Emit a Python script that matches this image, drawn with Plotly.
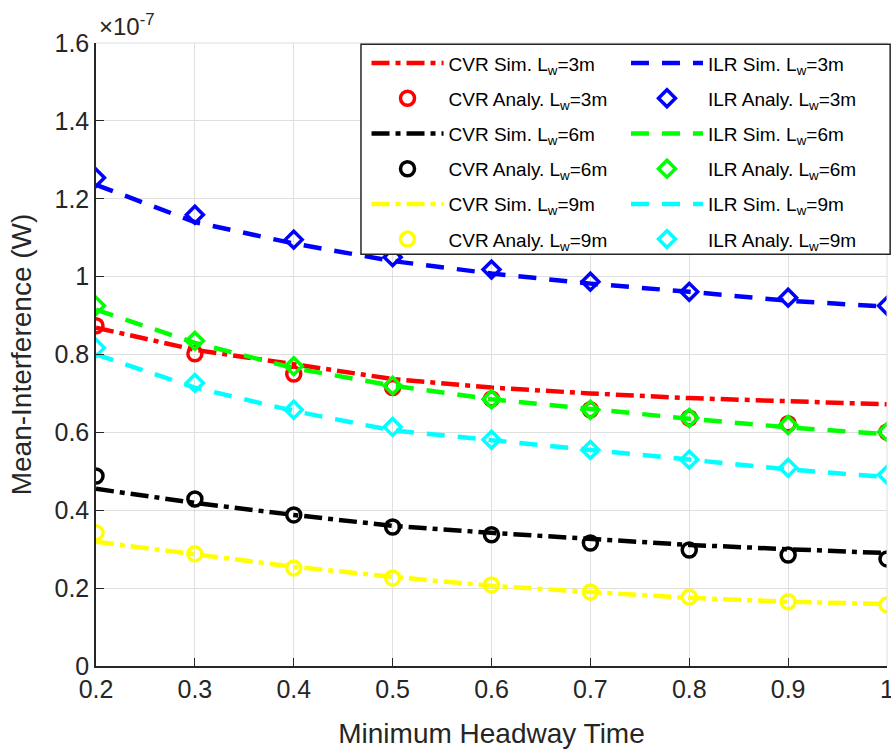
import plotly.graph_objects as go

# Minimum headway time
headway = [0.2, 0.3, 0.4, 0.5, 0.6, 0.7, 0.8, 0.9, 1.0]

# Mean interference, in units of 1e-7 W
cvr_sim_3 = [0.869, 0.812, 0.775, 0.737, 0.715, 0.700, 0.688, 0.680, 0.672]
cvr_ana_3 = [0.874, 0.802, 0.750, 0.715, 0.686, 0.658, 0.637, 0.622, 0.601]
ilr_sim_3 = [1.236, 1.140, 1.085, 1.040, 1.008, 0.982, 0.961, 0.938, 0.923]
ilr_ana_3 = [1.254, 1.159, 1.095, 1.050, 1.018, 0.987, 0.961, 0.946, 0.925]

cvr_sim_6 = [0.455, 0.419, 0.388, 0.360, 0.342, 0.326, 0.311, 0.300, 0.290]
cvr_ana_6 = [0.488, 0.429, 0.388, 0.357, 0.337, 0.316, 0.298, 0.285, 0.275]
ilr_sim_6 = [0.915, 0.830, 0.765, 0.720, 0.685, 0.660, 0.635, 0.613, 0.595]
ilr_ana_6 = [0.925, 0.835, 0.770, 0.720, 0.685, 0.658, 0.637, 0.619, 0.601]

cvr_sim_9 = [0.319, 0.288, 0.255, 0.229, 0.206, 0.190, 0.175, 0.165, 0.159]
cvr_ana_9 = [0.342, 0.288, 0.252, 0.226, 0.208, 0.190, 0.177, 0.165, 0.157]
ilr_sim_9 = [0.800, 0.715, 0.655, 0.605, 0.580, 0.555, 0.528, 0.505, 0.485]
ilr_ana_9 = [0.817, 0.727, 0.658, 0.614, 0.581, 0.555, 0.530, 0.509, 0.491]

x_ticks = [0.2, 0.3, 0.4, 0.5, 0.6, 0.7, 0.8, 0.9, 1.0]
x_labels = ["0.2", "0.3", "0.4", "0.5", "0.6", "0.7", "0.8", "0.9", "1"]
y_ticks = [0, 0.2, 0.4, 0.6, 0.8, 1.0, 1.2, 1.4, 1.6]
y_labels = ["0", "0.2", "0.4", "0.6", "0.8", "1", "1.2", "1.4", "1.6"]

DASHDOT = "18px,6px,5px,6px"
DASH = "18px,13px"
FONT = "Liberation Sans, Arial, Helvetica, sans-serif"

fig = go.Figure()

def sim(name, y, color, dash, legend):
    fig.add_trace(go.Scatter(x=headway, y=y, mode="lines", name=name,
                             legend=legend, legendgroup=name,
                             line=dict(color=color, width=4.5, dash=dash)))

def ana(name, y, color, symbol, size, legend):
    fig.add_trace(go.Scatter(x=headway, y=y, mode="markers", name=name,
                             legend=legend, legendgroup=name,
                             marker=dict(symbol=symbol, size=size, color=color,
                                         line=dict(color=color, width=3.5))))

sim("CVR Sim. L<sub>w</sub>=3m", cvr_sim_3, "#FF0000", DASHDOT, "legend")
sim("ILR Sim. L<sub>w</sub>=3m", ilr_sim_3, "#0000FF", DASH, "legend2")
ana("CVR Analy. L<sub>w</sub>=3m", cvr_ana_3, "#FF0000", "circle-open", 14, "legend")
ana("ILR Analy. L<sub>w</sub>=3m", ilr_ana_3, "#0000FF", "diamond-open", 13, "legend2")
sim("CVR Sim. L<sub>w</sub>=6m", cvr_sim_6, "#000000", DASHDOT, "legend")
sim("ILR Sim. L<sub>w</sub>=6m", ilr_sim_6, "#00FF00", DASH, "legend2")
ana("CVR Analy. L<sub>w</sub>=6m", cvr_ana_6, "#000000", "circle-open", 14, "legend")
ana("ILR Analy. L<sub>w</sub>=6m", ilr_ana_6, "#00FF00", "diamond-open", 13, "legend2")
sim("CVR Sim. L<sub>w</sub>=9m", cvr_sim_9, "#FFFF00", DASHDOT, "legend")
sim("ILR Sim. L<sub>w</sub>=9m", ilr_sim_9, "#00FFFF", DASH, "legend2")
ana("CVR Analy. L<sub>w</sub>=9m", cvr_ana_9, "#FFFF00", "circle-open", 14, "legend")
ana("ILR Analy. L<sub>w</sub>=9m", ilr_ana_9, "#00FFFF", "diamond-open", 13, "legend2")

legend_common = dict(
    orientation="v", yanchor="top", xanchor="left",
    bgcolor="rgba(0,0,0,0)", borderwidth=0,
    font=dict(family=FONT, size=19, color="#000000"),
    itemwidth=72, tracegroupgap=7.5, traceorder="grouped",
)

fig.update_layout(
    width=891, height=754,
    margin=dict(l=96, r=4, t=43, b=88, autoexpand=False),
    paper_bgcolor="white", plot_bgcolor="white",
    font=dict(family=FONT, color="#262626", size=24),
    showlegend=True,
    legend=dict(x=0.342, y=0.998, **legend_common),
    legend2=dict(x=0.670, y=0.998, **legend_common),
    xaxis=dict(
        range=[0.2, 1.0], tickvals=x_ticks, ticktext=x_labels,
        ticklabeloverflow="allow", automargin=False,
        showgrid=True, gridcolor="#DFDFDF", gridwidth=1,
        showline=True, linecolor="#262626", linewidth=1.5, mirror=False,
        ticks="inside", ticklen=8, tickcolor="#262626",
        zeroline=False,
        title=dict(text="Minimum Headway Time", font=dict(size=28), standoff=22),
        tickfont=dict(size=25),
    ),
    yaxis=dict(
        range=[0, 1.6], tickvals=y_ticks, ticktext=y_labels,
        automargin=False,
        showgrid=True, gridcolor="#DFDFDF", gridwidth=1,
        showline=True, linecolor="#262626", linewidth=1.5, mirror=False,
        ticks="inside", ticklen=8, tickcolor="#262626",
        zeroline=False,
        title=dict(text="Mean-Interference (W)", font=dict(size=28), standoff=15),
        tickfont=dict(size=25),
    ),
)

# top and right light frame
fig.add_shape(type="line", xref="paper", yref="paper", x0=0, x1=1, y0=1, y1=1,
              line=dict(color="#DFDFDF", width=1))
fig.add_shape(type="line", xref="paper", yref="paper", x0=1, x1=1, y0=0, y1=1,
              line=dict(color="#DFDFDF", width=1))

# legend box (two legend columns share one frame)
fig.add_shape(type="rect", xref="paper", yref="paper", layer="above",
              x0=0.335, x1=1.004, y0=0.661, y1=0.998,
              fillcolor="white", line=dict(color="#262626", width=1.5))

fig.add_annotation(text="\u00d710<sup>-7</sup>", xref="paper", yref="paper",
                   x=0.0, y=1.0, xanchor="left", yanchor="bottom", showarrow=False,
                   font=dict(family=FONT, size=24, color="#262626"), xshift=1, yshift=1)

fig.write_html("out.html")
